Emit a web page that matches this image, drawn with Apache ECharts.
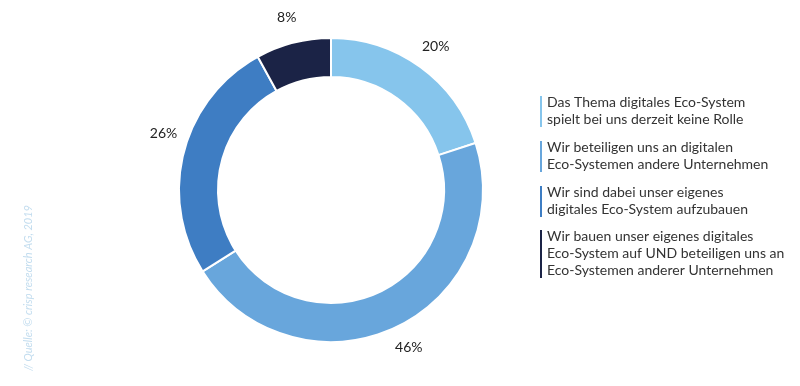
<!DOCTYPE html>
<html><head><meta charset="utf-8">
<script src="https://cdn.jsdelivr.net/npm/echarts@6/dist/echarts.min.js"></script>
<style>html,body{margin:0;padding:0;background:#fff}#c{width:800px;height:386px}</style>
</head><body><div id="c"></div>
<script>
const categories = [
  "Das Thema digitales Eco-System\nspielt bei uns derzeit keine Rolle",
  "Wir beteiligen uns an digitalen\nEco-Systemen andere Unternehmen",
  "Wir sind dabei unser eigenes\ndigitales Eco-System aufzubauen",
  "Wir bauen unser eigenes digitales\nEco-System auf UND beteiligen uns an\nEco-Systemen anderer Unternehmen"
];
const values = [20, 46, 26, 8];
const colors = ["#86c5ec", "#68a6dc", "#3e7dc3", "#1b2346"];
const sourceText = "// Quelle: © crisp research AG, 2019";

const chart = echarts.init(document.getElementById('c'));
const data = categories.map((c, i) => ({ name: c, value: values[i], itemStyle: { color: colors[i] } }));
const labelOffsets = [[0, 0], [2, -4], [5, -12], [0, 0]];

const legendTop = [94, 139, 184, 228];
const lineH = 17;
const graphics = [];
categories.forEach((c, i) => {
  const n = c.split("\n").length;
  graphics.push({ type: 'rect', left: 540, top: legendTop[i] + 2, shape: { width: 2, height: n * lineH - 3 }, style: { fill: colors[i] } });
  graphics.push({ type: 'text', left: 547, top: legendTop[i], style: { text: c, fill: '#333', font: '14px Lato', lineHeight: lineH } });
});
graphics.push({ type: 'text', x: 23, y: 371, rotation: Math.PI / 2, style: { text: sourceText, fill: '#c3ddef', font: 'italic 11px Lato', textAlign: 'left', textVerticalAlign: 'top' } });

chart.setOption({
  animation: false,
  graphic: graphics,
  series: [
    {
      type: 'pie', center: [331, 190], radius: [113, 152], startAngle: 90, clockwise: true,
      itemStyle: { borderColor: '#fff', borderWidth: 2 },
      label: { show: false }, labelLine: { show: false }, silent: true,
      data: data
    },
    {
      type: 'pie', center: [331, 190], radius: [157, 193], startAngle: 90, clockwise: true,
      itemStyle: { color: 'transparent' }, silent: true,
      label: { show: true, position: 'inside', formatter: '{c}%', color: '#222', fontFamily: 'Lato', fontSize: 14 },
      labelLine: { show: false },
      data: values.map((v, i) => ({ name: 'l' + i, value: v, label: { offset: labelOffsets[i] } }))
    }
  ]
});
</script></body></html>
